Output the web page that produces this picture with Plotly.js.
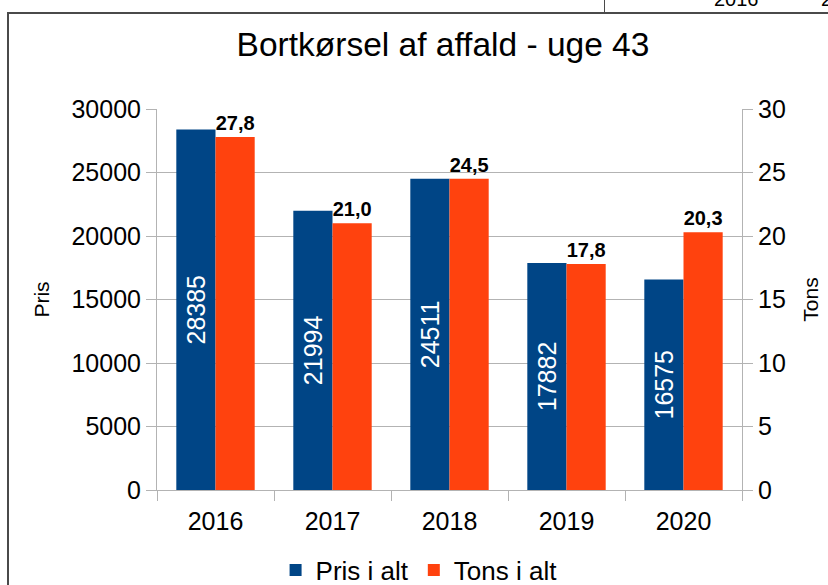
<!DOCTYPE html>
<html>
<head>
<meta charset="utf-8">
<script src="https://cdn.plot.ly/plotly-3.0.1.min.js"></script>
<style>
  html, body { margin: 0; padding: 0; background: #ffffff; }
  #wrap { position: relative; width: 828px; height: 585px; overflow: hidden; }
  #chart { position: absolute; left: 0; top: 0; width: 828px; height: 585px; }
  #frame { position: absolute; left: 7px; top: 12px; width: 900px; height: 700px;
           border-left: 2px solid #4a4a4a; border-top: 2px solid #4a4a4a; pointer-events: none; }
  #cellline { position: absolute; left: 604px; top: 0; width: 1px; height: 13px; background: #4a4a4a; }
  .celltxt { position: absolute; font-family: "Liberation Sans", Arial, sans-serif; font-size: 20px;
             color: #000; line-height: 20px; }
</style>
</head>
<body>
<div id="wrap">
  <div id="chart"></div>
  <div id="frame"></div>
  <div id="cellline"></div>
  <div class="celltxt" style="left:714px; top:-11px;">2016</div>
  <div class="celltxt" style="left:821px; top:-11px;">2</div>
</div>
<script>
const years = ['2016', '2017', '2018', '2019', '2020'];
const prisValues = [28385, 21994, 24511, 17882, 16575];
const tonsValues = [27.8, 21.0, 24.5, 17.8, 20.3];
const prisTicks = [0, 5000, 10000, 15000, 20000, 25000, 30000];
const tonsTicks = [0, 5, 10, 15, 20, 25, 30];

const FONT = 'Liberation Sans, Arial, sans-serif';
const GRID = '#b3b3b3';

const tonsText = tonsValues.map(v => v.toFixed(1).replace('.', ','));

const traces = [
  {
    type: 'bar', name: 'Pris i alt', x: years, y: prisValues,
    yaxis: 'y', offsetgroup: '1',
    marker: { color: '#004586' },
    text: prisValues.map(String), textposition: 'inside', insidetextanchor: 'middle',
    textangle: -90, textfont: { family: FONT, size: 25, color: '#ffffff' },
    hoverinfo: 'x+y'
  },
  {
    type: 'bar', name: 'Tons i alt', x: years, y: tonsValues,
    yaxis: 'y2', offsetgroup: '2',
    marker: { color: '#ff420e' },
    text: tonsText, textposition: 'outside', textangle: 0,
    textfont: { family: FONT, size: 20, color: '#000000', weight: 'bold' },
    cliponaxis: false,
    hoverinfo: 'x+y'
  }
];

const layout = {
  width: 828, height: 585,
  margin: { l: 157, r: 86, t: 109, b: 95, autoexpand: false },
  paper_bgcolor: 'rgba(0,0,0,0)', plot_bgcolor: '#ffffff',
  font: { family: FONT, color: '#000000' },
  title: { text: 'Bortkørsel af affald - uge 43', font: { family: FONT, size: 33.5, color: '#000' },
           xref: 'container', x: 0.535, xanchor: 'center', yref: 'container', y: 0.925, yanchor: 'middle' },
  barmode: 'group', bargap: 0.33, bargroupgap: 0,
  showlegend: true,
  legend: { orientation: 'h', x: 0.448, xanchor: 'center', y: -0.21, yanchor: 'middle',
            font: { family: FONT, size: 26, color: '#000' }, traceorder: 'normal' },
  xaxis: {
    type: 'category', tickson: 'boundaries', ticks: 'outside', ticklen: 10, tickcolor: GRID,
    showline: true, linecolor: GRID, linewidth: 1, showgrid: false, zeroline: false,
    tickangle: 0, automargin: false, ticklabelstandoff: 9,
    tickfont: { family: FONT, size: 25, color: '#000' }
  },
  yaxis: {
    range: [0, 30000], tickvals: prisTicks, ticktext: prisTicks.map(String),
    ticks: 'outside', ticklen: 10, tickcolor: GRID, automargin: false,
    showline: true, linecolor: GRID, linewidth: 1, showgrid: true, gridcolor: GRID, zeroline: false,
    tickfont: { family: FONT, size: 25, color: '#000' },
    title: { text: 'Pris', font: { family: FONT, size: 21, color: '#000' }, standoff: 16 }
  },
  yaxis2: {
    range: [0, 30], tickvals: tonsTicks, ticktext: tonsTicks.map(String),
    overlaying: 'y', side: 'right', automargin: false,
    ticks: 'outside', ticklen: 10, tickcolor: GRID,
    showline: true, linecolor: GRID, linewidth: 1, showgrid: false, zeroline: false,
    tickfont: { family: FONT, size: 25, color: '#000' },
    title: { text: 'Tons', font: { family: FONT, size: 21, color: '#000' }, standoff: 18 }
  }
};

Plotly.newPlot('chart', traces, layout, { displayModeBar: false, staticPlot: true });
</script>
</body>
</html>
